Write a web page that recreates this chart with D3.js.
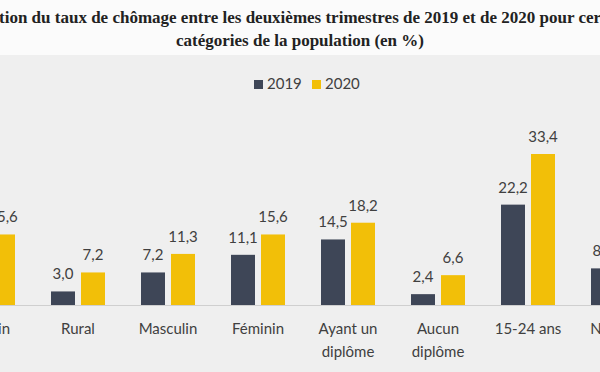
<!DOCTYPE html>
<html>
<head>
<meta charset="utf-8">
<script src="https://cdn.jsdelivr.net/npm/d3@7"></script>
<style>
  body { margin: 0; background: #efefef; }
  svg { display: block; }
</style>
</head>
<body>
<svg id="chart"></svg>
<script>
// chart values (the source picture is cropped left and right)
const categories = [["Urbain"], ["Rural"], ["Masculin"], ["Féminin"], ["Ayant un", "diplôme"], ["Aucun", "diplôme"], ["15-24 ans"], ["National"]];
const years = ["2019", "2020"];
const values2019 = [11.7, 3.0, 7.2, 11.1, 14.5, 2.4, 22.2, 8.1];
const values2020 = [15.6, 7.2, 11.3, 15.6, 18.2, 6.6, 33.4, 12.3];
const titleLines = ["Évolution du taux de chômage entre les deuxièmes trimestres de 2019 et de 2020 pour certaines",
                    "catégories de la population (en %)"];

const colors = {"2019": "#3e4657", "2020": "#f2bf08"};

let canvas = {"width": 600, "height": 372, "baseline": 305, "titleBottom": 55};

let svg = d3.select("#chart")
  .attr("width", canvas.width)
  .attr("height", canvas.height);

// title band
svg.append("rect")
  .attr("x", 0).attr("y", 0)
  .attr("width", canvas.width).attr("height", canvas.titleBottom)
  .attr("fill", "#fbfbfb");

svg.selectAll(".title")
  .data(titleLines)
  .join("text")
  .attr("class", "title")
  .attr("x", 300)
  .attr("y", (d, i) => 23 + 23 * i)
  .attr("text-anchor", "middle")
  .attr("font-family", "'Liberation Serif', serif")
  .attr("font-weight", "bold")
  .attr("font-size", "17px")
  .attr("fill", "#222")
  .text(d => d);

let rows = categories.map((c, i) => ({"label": c, "2019": values2019[i], "2020": values2020[i], "key": c.join(" ")}));

let xScale = d3.scaleBand()
  .domain(rows.map(d => d.key))
  .range([-57, 663]);

let xSub = d3.scaleBand()
  .domain(years)
  .range([18, 72])
  .paddingInner(0.2);

let yScale = d3.scaleLinear()
  .domain([0, 33.4])
  .range([canvas.baseline, canvas.baseline - 151]);

let groups = svg.selectAll(".group")
  .data(rows)
  .join("g")
  .attr("class", "group")
  .attr("transform", d => `translate(${xScale(d.key)},0)`);

let bars = groups.selectAll(".bar")
  .data(d => years.map(y => ({"year": y, "value": d[y]})))
  .join("g");

bars.append("rect")
  .attr("class", "bar")
  .attr("x", d => xSub(d.year))
  .attr("width", xSub.bandwidth())
  .attr("y", d => yScale(d.value))
  .attr("height", d => yScale(0) - yScale(d.value))
  .attr("fill", d => colors[d.year]);

bars.append("text")
  .attr("x", d => xSub(d.year) + xSub.bandwidth() / 2)
  .attr("y", d => yScale(d.value) - 12)
  .attr("text-anchor", "middle")
  .attr("font-family", "Lato, sans-serif")
  .attr("font-size", "15px")
  .attr("fill", "#404040")
  .text(d => d3.format(".1f")(d.value).replace(".", ","));

// baseline
svg.append("line")
  .attr("x1", 0).attr("x2", canvas.width)
  .attr("y1", canvas.baseline + 0.5).attr("y2", canvas.baseline + 0.5)
  .attr("stroke", "#cfcfcf")
  .attr("stroke-width", 1);

// category labels
groups.append("text")
  .attr("text-anchor", "middle")
  .attr("font-family", "Lato, sans-serif")
  .attr("font-size", "15px")
  .attr("fill", "#404040")
  .selectAll("tspan")
  .data(d => d.label)
  .join("tspan")
  .attr("x", xScale.bandwidth() / 2)
  .attr("y", (d, i) => 334 + 23 * i)
  .text(d => d);

// legend
let legend = svg.selectAll(".legend")
  .data(years)
  .join("g")
  .attr("class", "legend")
  .attr("transform", (d, i) => `translate(${254 + 58 * i},80)`);

legend.append("rect")
  .attr("width", 9).attr("height", 9)
  .attr("fill", d => colors[d]);

legend.append("text")
  .attr("x", 13)
  .attr("y", 9)
  .attr("font-family", "Lato, sans-serif")
  .attr("font-size", "15px")
  .attr("fill", "#404040")
  .text(d => d);
</script>
</body>
</html>
